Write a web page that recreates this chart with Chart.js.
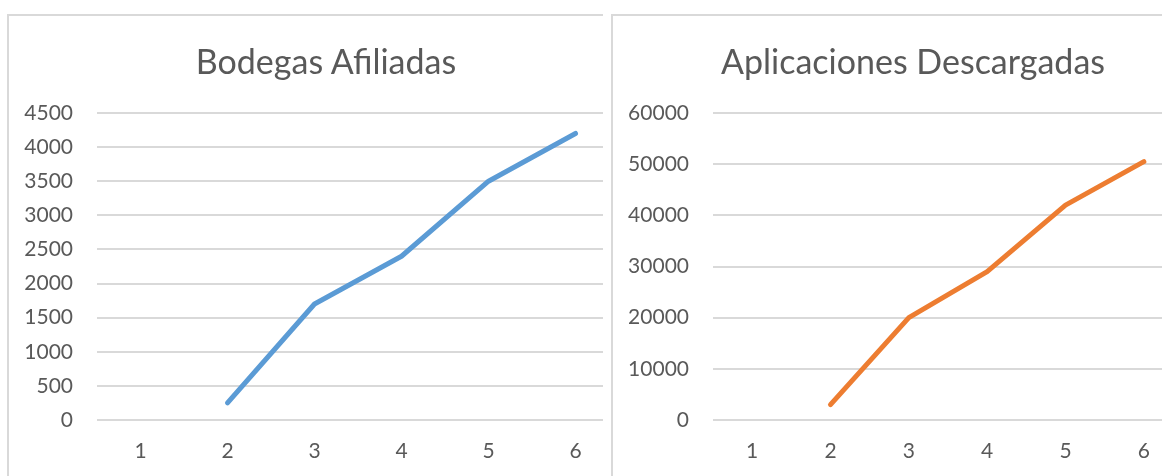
<!DOCTYPE html>
<html>
<head>
<meta charset="utf-8">
<script src="https://cdn.jsdelivr.net/npm/chart.js@4/dist/chart.umd.min.js"></script>
<style>
  html, body { margin: 0; padding: 0; background: #fff; overflow: hidden; width: 1162px; height: 476px; }
  .panel { position: absolute; top: 14px; height: 480px; overflow: hidden; background: #fff;
           border-left: 2px solid #d9d9d9; border-top: 2px solid #d9d9d9; }
  #left { left: 7px; width: 594px; }
  #right { left: 611px; width: 560px; }
  canvas { display: block; }
  .title { position: absolute; top: 25px; width: 0; height: 0; white-space: nowrap;
           font-family: Lato, "Open Sans", sans-serif; font-size: 34px; line-height: 40px;
           color: #595959; }
  .title span { position: absolute; left: 0; top: 0; transform: translateX(-50%); }
</style>
</head>
<body>
<div class="panel" id="left"><canvas id="c1" width="640" height="460"></canvas>
  <div class="title" style="left: 317px;"><span>Bodegas Afiliadas</span></div></div>
<div class="panel" id="right"><canvas id="c2" width="600" height="460"></canvas>
  <div class="title" style="left: 300px;"><span>Aplicaciones Descargadas</span></div></div>
<script>
// Periods on the x axis
const periods = ['1', '2', '3', '4', '5', '6'];
// Affiliated stores per period (no value in period 1)
const bodegas = [null, 250, 1700, 2400, 3500, 4200];
// Downloaded apps per period (no value in period 1)
const descargas = [null, 3000, 20000, 29000, 42000, 50500];

const TEXT = '#595959';
const GRID = '#d9d9d9';
const FONT = 'Lato, "Open Sans", sans-serif';

function makeChart(id, values, color, yMax, yStep, axisWidth) {
  return new Chart(document.getElementById(id), {
    type: 'line',
    data: {
      labels: periods,
      datasets: [{
        data: values,
        borderColor: color,
        borderWidth: 5,
        borderCapStyle: 'round',
        borderJoinStyle: 'round',
        pointRadius: 0,
        tension: 0,
        fill: false
      }]
    },
    options: {
      responsive: false,
      animation: false,
      devicePixelRatio: 1,
      layout: { padding: { left: 0, right: 30, top: 97, bottom: 0 } },
      plugins: {
        legend: { display: false },
        tooltip: { enabled: false },
        title: { display: false }
      },
      scales: {
        x: {
          offset: true,
          grid: { display: false, drawTicks: false },
          border: { display: false },
          ticks: { color: TEXT, font: { family: FONT, size: 21 }, padding: 19, maxRotation: 0 },
          afterFit: s => { s.height = 56; }
        },
        y: {
          min: 0,
          max: yMax,
          grid: { color: GRID, lineWidth: 2, drawTicks: false },
          border: { display: false },
          ticks: {
            stepSize: yStep, color: TEXT, font: { family: FONT, size: 21 }, padding: 24,
            callback: v => String(v)
          },
          afterFit: s => { s.width = axisWidth; }
        }
      }
    }
  });
}

makeChart('c1', bodegas, '#5b9bd5', 4500, 500, 88);
makeChart('c2', descargas, '#ed7d31', 60000, 10000, 100);
</script>
</body>
</html>
